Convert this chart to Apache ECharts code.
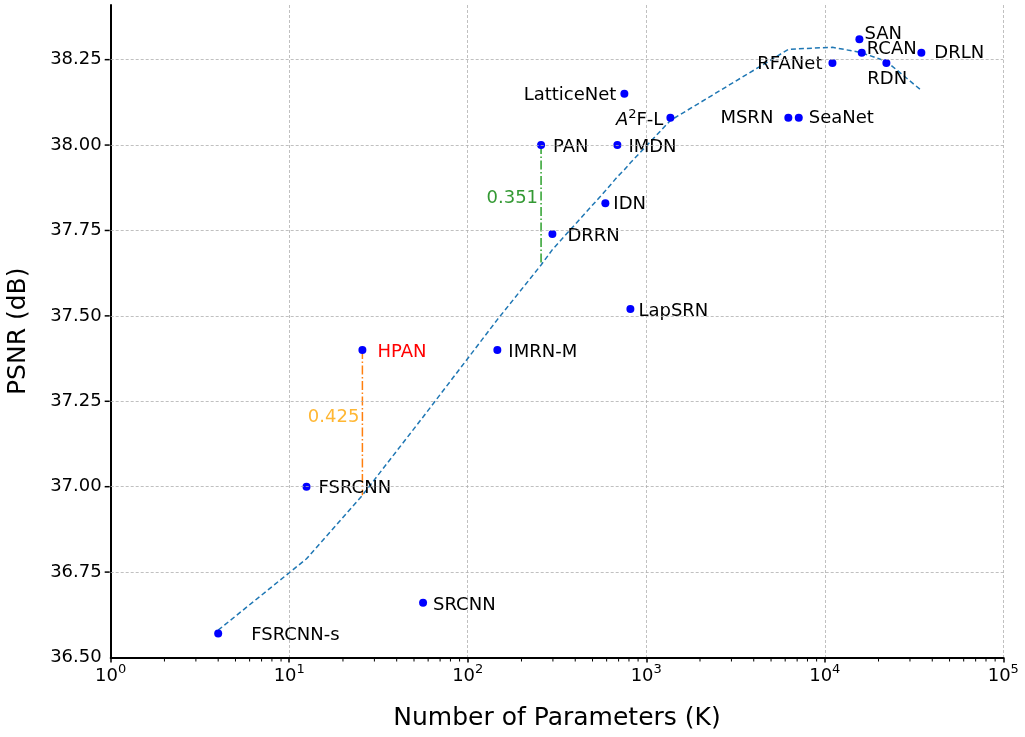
<!DOCTYPE html>
<html><head><meta charset="utf-8">
<script src="https://cdn.jsdelivr.net/npm/echarts@6/dist/echarts.min.js"></script>
<style>html,body{margin:0;padding:0;background:#fff}#c{width:1025px;height:737px}</style>
</head><body><div id="c"></div>
<script>
// ---- data ----
const models = ['FSRCNN-s','FSRCNN','HPAN','SRCNN','IMRN-M','PAN','DRRN','IDN','IMDN','LatticeNet','LapSRN','A2F-L','MSRN','SeaNet','RFANet','SAN','RCAN','RDN','DRLN'];
const paramsK = [4, 12.5, 25.7, 56.2, 146.5, 257.5, 298, 590, 689, 754, 815, 1365, 6250, 7150, 11040, 15630, 16110, 22130, 34750];
const psnr = [36.57, 37.00, 37.40, 36.66, 37.40, 38.00, 37.74, 37.83, 38.00, 38.15, 37.52, 38.08, 38.08, 38.08, 38.24, 38.31, 38.27, 38.24, 38.27];
const trendX = [4, 12.5, 25.7, 56.2, 146.5, 257.5, 298, 590, 689, 754, 815, 1365, 6250, 7150, 11040, 15630, 16110, 22130, 34750];
const trendY = [36.58, 36.789, 36.975, 37.204, 37.489, 37.649, 37.694, 37.866, 37.907, 37.928, 37.948, 38.072, 38.28, 38.282, 38.286, 38.272, 38.27, 38.245, 38.16];
const gapModels = ['HPAN', 'PAN'];
const gapValues = [0.425, 0.351];
const yTicks = [36.50, 36.75, 37.00, 37.25, 37.50, 37.75, 38.00, 38.25];
const xTickExponents = [0, 1, 2, 3, 4, 5];

// ---- layout / style config ----
const FONT = 'DejaVu Sans';
const R = 4; // marker radius
const labelPlace = {
  'FSRCNN-s': ['left', 33, 2], 'FSRCNN': ['left', 12, 2], 'HPAN': ['left', 15, 2],
  'SRCNN': ['left', 10, 2], 'IMRN-M': ['left', 11, 2], 'PAN': ['left', 12, 2],
  'DRRN': ['left', 15, 2], 'IDN': ['left', 8, 1], 'IMDN': ['left', 11, 2],
  'LatticeNet': ['right', -8, 2], 'LapSRN': ['left', 8, 2], 'A2F-L': ['right', -7, 1],
  'MSRN': ['right', -15, 1], 'SeaNet': ['left', 10, 1], 'RFANet': ['right', -10, 1],
  'SAN': ['left', 5, -5], 'RCAN': ['left', 5, -3], 'RDN': ['left', -19, 16], 'DRLN': ['left', 13, 1]
};
const gapStyle = [
  { line: '#ff7f0e', text: '#ffa500', dy: -5 },
  { line: '#2ca02c', text: '#008000', dy: -7 }
];

const yMin = yTicks[0], yMax = 38.41;
const xMin = Math.pow(10, xTickExponents[0]), xMax = Math.pow(10, xTickExponents[xTickExponents.length - 1]);

const minorX = [];
for (let k = xTickExponents[0]; k < xTickExponents[xTickExponents.length - 1]; k++)
  for (let m = 2; m <= 9; m++) minorX.push(m * Math.pow(10, k));

const richSup = {
  i: { fontFamily: FONT, fontSize: 18, fontStyle: 'italic', color: '#000', lineHeight: 22, verticalAlign: 'bottom' },
  sup: { fontFamily: FONT, fontSize: 13, color: '#000', lineHeight: 13, verticalAlign: 'top' },
  n: { fontFamily: FONT, fontSize: 18, color: '#000', lineHeight: 22, verticalAlign: 'bottom' }
};

const scatterData = models.map((name, i) => {
  const p = labelPlace[name];
  return {
    name: name,
    value: [paramsK[i], psnr[i]],
    label: {
      show: true, position: [R + p[1], R + p[2]], align: p[0], verticalAlign: 'middle',
      color: name === 'HPAN' ? '#ff0000' : '#000000',
      formatter: name === 'A2F-L' ? '{i|A}{sup|2}{n|F-L}' : name
    }
  };
});

const gapSeries = [];
gapModels.forEach((name, j) => {
  const i = models.indexOf(name);
  const x = paramsK[i], top = psnr[i], bot = psnr[i] - gapValues[j];
  gapSeries.push({
    type: 'line', data: [[x, top], [x, bot]], symbol: 'none', z: 2, silent: true,
    lineStyle: { color: gapStyle[j].line, width: 1.5, type: [9, 2.5, 1.5, 2.5] }
  });
  gapSeries.push({
    type: 'scatter', data: [[x, (top + bot) / 2]], symbolSize: 2, z: 5, silent: true,
    itemStyle: { color: 'rgba(0,0,0,0)' },
    label: {
      show: true, position: [1 - 3, 1 + gapStyle[j].dy], align: 'right', verticalAlign: 'middle',
      formatter: gapValues[j].toFixed(3),
      color: gapStyle[j].text, fontFamily: FONT, fontSize: 18
    }
  });
});

const chart = echarts.init(document.getElementById('c'), null, { renderer: 'canvas' });
chart.setOption({
  animation: false,
  backgroundColor: '#fff',
  grid: { left: 110.7, right: 21.7, top: 5, bottom: 79.5, containLabel: false, outerBoundsMode: 'none' },
  xAxis: {
    type: 'log', logBase: 10, min: xMin, max: xMax,
    name: 'Number of Parameters (K)', nameLocation: 'middle', nameGap: 48,
    nameTextStyle: { fontFamily: FONT, fontSize: 25, color: '#000' },
    axisLine: { show: true, lineStyle: { color: '#000', width: 2 } },
    axisTick: { show: true, length: 5, lineStyle: { color: '#000', width: 1.5 } },
    minorTick: { show: false },
    splitLine: { show: true, lineStyle: { color: '#b0b0b0', width: 0.8, type: [3, 2] } },
    axisLabel: {
      margin: 6, hideOverlap: false,
      formatter: v => '{b|10}{s|' + Math.round(Math.log10(v)) + '}',
      rich: {
        b: { fontFamily: FONT, fontSize: 18, color: '#000', lineHeight: 22, verticalAlign: 'bottom' },
        s: { fontFamily: FONT, fontSize: 13, color: '#000', lineHeight: 13, verticalAlign: 'top' }
      }
    }
  },
  yAxis: {
    type: 'value', min: yMin, max: yMax, interval: 0.25,
    name: 'PSNR (dB)', nameLocation: 'middle', nameGap: 80, nameRotate: 90,
    nameTextStyle: { fontFamily: FONT, fontSize: 25, color: '#000' },
    axisLine: { show: true, lineStyle: { color: '#000', width: 2 } },
    axisTick: { show: false },
    splitLine: { show: false },
    axisLabel: {
      margin: 9, showMaxLabel: false, fontFamily: FONT, fontSize: 18, color: '#000',
      formatter: v => (Math.abs(v / 0.25 - Math.round(v / 0.25)) < 1e-6 ? v.toFixed(2) : '')
    }
  },
  series: [
    {
      type: 'line', data: [], z: 1, silent: true,
      markLine: {
        silent: true, symbol: ['none', 'none'], label: { show: false },
        lineStyle: { color: '#b0b0b0', width: 0.8, type: [3, 2] },
        data: yTicks.slice(1).map(v => ({ yAxis: v }))
      }
    },
    {
      type: 'custom', z: 6, silent: true, clip: false,
      data: minorX.map(v => [v, yMin]),
      renderItem: (params, api) => {
        const p = api.coord([api.value(0), api.value(1)]);
        return { type: 'line', shape: { x1: p[0], y1: p[1] + 1, x2: p[0], y2: p[1] + 4 }, style: { stroke: '#000', lineWidth: 1 } };
      }
    },
    {
      type: 'custom', z: 6, silent: true, clip: false,
      data: yTicks.slice(1).map(v => [xMin, v]),
      renderItem: (params, api) => {
        const p = api.coord([api.value(0), api.value(1)]);
        return { type: 'line', shape: { x1: p[0] - 6, y1: p[1], x2: p[0] - 1, y2: p[1] }, style: { stroke: '#000', lineWidth: 1.5 } };
      }
    },
    {
      type: 'line', data: trendX.map((x, i) => [x, trendY[i]]), symbol: 'none', z: 3, silent: true,
      lineStyle: { color: '#1f77b4', width: 1.5, type: [5, 3] }
    },
    ...gapSeries,
    {
      type: 'scatter', data: scatterData, symbol: 'circle', symbolSize: 2 * R, z: 4,
      itemStyle: { color: '#0000ff', opacity: 1 },
      label: { fontFamily: FONT, fontSize: 18, rich: richSup },
      labelLayout: { hideOverlap: false }
    }
  ]
});
</script></body></html>
